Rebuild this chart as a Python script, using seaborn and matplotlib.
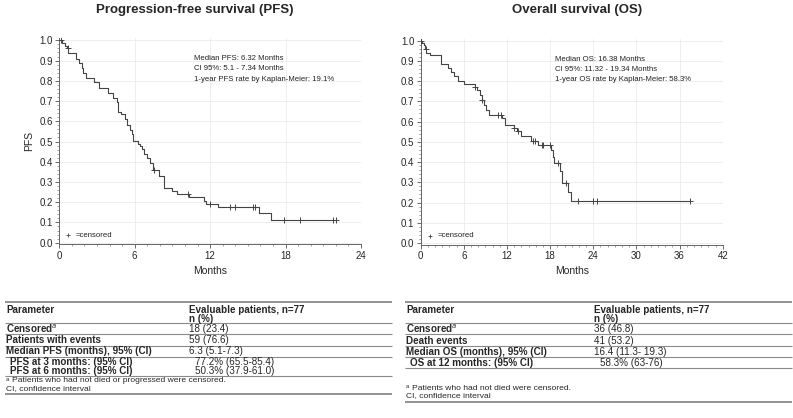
# Kaplan-Meier curves for PFS and OS with summary tables
import numpy as np
import matplotlib
matplotlib.use('Agg')
import matplotlib.pyplot as plt
from matplotlib.ticker import MultipleLocator
import seaborn as sns

# PFS step function (time in months, survival after the step)
pfs_t = [0, 0.25, 0.45, 0.6, 0.72, 1.3, 1.57, 1.78, 1.9, 2.1, 2.8, 3.18, 3.9, 4.3, 4.56,
         4.64, 4.9, 5.22, 5.35, 5.62, 5.8, 5.88, 6.28, 6.4, 6.55, 6.76, 6.95, 7.2, 7.47,
         7.95, 8.35, 9.0, 9.4, 10.33, 11.5, 11.66, 12.64, 15.9, 16.88, 22.05]
pfs_s = [1.0, 0.987, 0.974, 0.961, 0.935, 0.91, 0.886, 0.862, 0.837, 0.815, 0.795, 0.763,
         0.738, 0.716, 0.697, 0.647, 0.635, 0.61, 0.58, 0.557, 0.535, 0.502, 0.49, 0.48,
         0.465, 0.44, 0.417, 0.392, 0.36, 0.33, 0.272, 0.255, 0.24, 0.227, 0.207, 0.19,
         0.175, 0.145, 0.114, 0.114]
pfs_cens = [0.1, 0.66, 7.55, 10.2, 12.0, 13.57, 13.97, 15.37, 15.56, 17.89, 19.13, 21.78, 22.0]

# OS step function
os_t = [0, 0.23, 0.5, 0.6, 0.74, 1.3, 2.82, 3.84, 4.2, 4.68, 5.23, 5.97, 7.5, 7.8, 8.25,
        8.5, 8.8, 9.08, 9.5, 11.35, 11.73, 12.95, 13.35, 13.95, 15.3, 16.35, 18.1, 18.36,
        18.58, 19.37, 19.6, 20.53, 20.86, 37.4]
os_s = [1.0, 0.99, 0.98, 0.96, 0.94, 0.93, 0.885, 0.865, 0.845, 0.823, 0.8, 0.785, 0.77,
        0.757, 0.733, 0.708, 0.683, 0.658, 0.634, 0.617, 0.584, 0.568, 0.551, 0.531, 0.505,
        0.485, 0.46, 0.427, 0.395, 0.358, 0.296, 0.254, 0.209, 0.209]
os_cens = [0.1, 0.68, 7.55, 8.57, 10.7, 11.17, 13.0, 13.6, 15.57, 15.9, 16.83, 17.06, 17.98,
           19.14, 20.17, 21.9, 24.0, 24.5, 37.4]

pfs_notes = ['Median PFS: 6.32 Months', 'CI 95%: 5.1 - 7.34 Months',
             '1-year PFS rate by Kaplan-Meier: 19.1%']
os_notes = ['Median OS: 16.38 Months', 'CI 95%: 11.32 - 19.34 Months',
            '1-year OS rate by Kaplan-Meier: 58.3%']

pfs_rows = [('Censored$^{a}$', '18 (23.4)', False),
            ('Patients with events', '59 (76.6)', False),
            ('Median PFS (months), 95% (CI)', '6.3 (5.1-7.3)', False),
            ('PFS at 3 months: (95% CI)', '77.2% (65.5-85.4)', True),
            ('PFS at 6 months: (95% CI)', '50.3% (37.9-61.0)', True)]
os_rows = [('Censored$^{a}$', '36 (46.8)', False),
           ('Death events', '41 (53.2)', False),
           ('Median OS (months), 95% (CI)', '16.4 (11.3- 19.3)', False),
           ('OS at 12 months: (95% CI)', '58.3% (63-76)', True)]

sns.set_style('white')
plt.rcParams['font.family'] = ['Liberation Sans', 'DejaVu Sans']
plt.rcParams['mathtext.fontset'] = 'custom'
plt.rcParams['mathtext.rm'] = 'Liberation Sans'
plt.rcParams['mathtext.bf'] = 'Liberation Sans:bold'

W, H = 793, 418
fig = plt.figure(figsize=(W / 100, H / 100), dpi=100)

line_col = '#444444'


def censor_y(t, s, c):
    idx = np.searchsorted(t, c, side='right') - 1
    return np.array(s)[idx]


def km_panel(rect, t, s, cens, xmax, notes, ylabel):
    ax = fig.add_axes(rect)
    ax.set_xlim(0, xmax)
    ax.set_ylim(-0.008, 1.01)
    ax.grid(True, color='#ebebeb', linewidth=0.6)
    ax.set_axisbelow(True)
    sns.lineplot(x=t, y=s, drawstyle='steps-post', estimator=None, sort=False,
                 color=line_col, linewidth=0.8, ax=ax)
    sns.scatterplot(x=cens, y=censor_y(t, s, cens), marker='+', s=14, linewidth=0.7,
                    color=line_col, ax=ax, zorder=3)
    ax.xaxis.set_major_locator(MultipleLocator(6))
    ax.xaxis.set_minor_locator(MultipleLocator(1))
    ax.yaxis.set_major_locator(MultipleLocator(0.1))
    ax.yaxis.set_minor_locator(MultipleLocator(0.02))
    ax.tick_params(axis='both', which='major', length=3, width=0.6, color='#555555',
                   labelsize=7, pad=1.5, direction='out', bottom=True, left=True)
    ax.tick_params(axis='both', which='minor', length=1.5, width=0.5, color='#777777',
                   bottom=True, left=True)
    ax.yaxis.set_major_formatter(matplotlib.ticker.FormatStrFormatter('%.1f'))
    for sp in ['top', 'right']:
        ax.spines[sp].set_visible(False)
    for sp in ['left', 'bottom']:
        ax.spines[sp].set_color('#666666')
        ax.spines[sp].set_linewidth(0.7)
    ax.set_xlabel('Months', fontsize=7.5, labelpad=4)
    ax.set_ylabel(ylabel, fontsize=7.5, labelpad=4)
    for i, n in enumerate(notes):
        ax.text(0.445, 0.9 - i * 0.049, n, transform=ax.transAxes, fontsize=5.6,
                va='center', color='#222222')
    ax.scatter([0.03], [0.044], transform=ax.transAxes, marker='+', s=10,
               linewidth=0.6, color=line_col)
    ax.text(0.055, 0.044, '=censored', transform=ax.transAxes, fontsize=5.6,
            va='center', color='#222222')
    return ax


def px_rect(left, right, top, bottom):
    return [left / W, 1 - bottom / H, (right - left) / W, (bottom - top) / H]


ax1 = km_panel(px_rect(59.3, 361, 38.3, 244.3), pfs_t, pfs_s, pfs_cens, 24, pfs_notes, 'PFS')
ax2 = km_panel(px_rect(420.7, 722.7, 38.6, 244.6), os_t, os_s, os_cens, 42, os_notes, '')
fig.text(195 / W, 1 - 10 / H, 'Progression-free survival (PFS)', fontsize=9.5,
         fontweight='bold', ha='center', va='center')
fig.text(577 / W, 1 - 10 / H, 'Overall survival (OS)', fontsize=9.5,
         fontweight='bold', ha='center', va='center')

# tables drawn on a full-figure overlay in pixel units
tab = fig.add_axes([0, 0, 1, 1], zorder=-1)
tab.set_xlim(0, W)
tab.set_ylim(H, 0)
tab.axis('off')
tab.patch.set_alpha(0)

fs = 7.1
rule = '#8a8a8a'


def draw_table(x0, x1, col2, rows, lines, heavy, row_y, foot, foot_y):
    for y in heavy:
        tab.plot([x0, x1], [y, y], color=rule, linewidth=1.3, solid_capstyle='butt')
    for y in lines:
        tab.plot([x0, x1], [y, y], color=rule, linewidth=0.8, solid_capstyle='butt')
    tab.text(x0 + 1, 310, 'Parameter', fontsize=fs, fontweight='bold', va='center')
    tab.text(col2, 310, 'Evaluable patients, n=77', fontsize=fs, fontweight='bold',
             va='center')
    tab.text(col2, 318.5, 'n (%)', fontsize=fs, fontweight='bold', va='center')
    for (lab, val, indent), y in zip(rows, row_y):
        dx = 4 if indent else 0
        tab.text(x0 + 1 + dx, y, lab, fontsize=fs, fontweight='bold', va='center')
        tab.text(col2 + dx * 1.5, y, val, fontsize=fs, va='center')
    # footnote marker drawn as a small raised letter
    tab.text(x0 + 1, foot_y[0] - 1.5, 'a', fontsize=4.2, va='center')
    tab.text(x0 + 7, foot_y[0], foot[0], fontsize=6.1, va='center')
    tab.text(x0 + 1, foot_y[1], foot[1], fontsize=6.1, va='center')


draw_table(5, 392, 189, pfs_rows, [322.7, 334, 345.7, 356.7, 375.5], [302, 394],
           [328.5, 340.2, 351.3, 362, 370.8],
           ['Patients who had not died or progressed were censored.',
            'CI, confidence interval'], [381, 389])
draw_table(405, 792, 594, os_rows, [322.7, 334, 346, 357, 368], [302, 402],
           [328.5, 340.5, 351.8, 362.6],
           ['Patients who had not died were censored.',
            'CI, confidence interval'], [388, 396])

fig.savefig('out.png', dpi=100)
